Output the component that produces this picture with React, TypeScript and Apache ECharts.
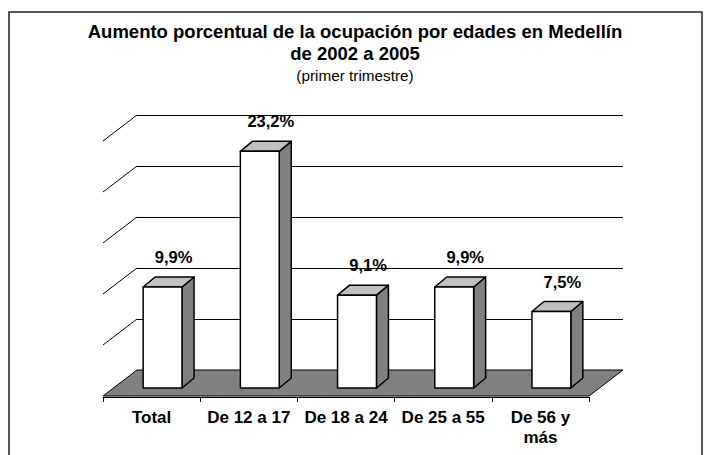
import React, { useEffect, useRef } from "react";
import * as echarts from "echarts";

const titleLines = ["Aumento porcentual de la ocupación por edades en Medellín", "de 2002 a 2005"];
const subtitle = "(primer trimestre)";
const categories = ["Total", "De 12 a 17", "De 18 a 24", "De 25 a 55", "De 56 y\nmás"];
const values = [9.9, 23.2, 9.1, 9.9, 7.5];
const valueLabels = ["9,9%", "23,2%", "9,1%", "9,9%", "7,5%"];
const wallTicks = [5, 10, 15, 20, 25];

const FONT = "'Liberation Sans', Arial, sans-serif";
// full floor depth (back wall to front edge)
const DEPTH_X = 34;
const DEPTH_Y = 26;
// bar front plane offset from the floor front edge
const FRONT_DX = 11;
const FRONT_DY = 9;
// bar depth
const SIDE_DX = 12;
const SIDE_DY = 10;

export default function App() {
  const ref = useRef<HTMLDivElement>(null);
  useEffect(() => {
    if (!ref.current) return;
    const chart = echarts.init(ref.current, undefined, { renderer: "svg" });
    const titleStyle = {
      fontFamily: FONT,
      fontSize: 18.5,
      fontWeight: "bold",
      fill: "#000",
      align: "center",
      verticalAlign: "middle",
    };
    const option: any = {
      animation: false,
      backgroundColor: "#ffffff",
      graphic: [
        {
          type: "rect",
          shape: { x: 9, y: 12, width: 693, height: 470 },
          style: { fill: "none", stroke: "#222", lineWidth: 1.5 },
          silent: true,
          z: 0,
        },
        {
          type: "text",
          x: 355,
          y: 31,
          style: { ...titleStyle, text: titleLines[0] },
          silent: true,
        },
        {
          type: "text",
          x: 355,
          y: 53,
          style: { ...titleStyle, text: titleLines[1] },
          silent: true,
        },
        {
          type: "text",
          x: 355,
          y: 75,
          style: {
            fontFamily: FONT,
            fontSize: 15.3,
            fill: "#000",
            align: "center",
            verticalAlign: "middle",
            text: subtitle,
          },
          silent: true,
        },
      ],
      grid: [
        { left: 137, top: 115, width: 486, height: 255 },
        { left: 103, top: 142, width: 486, height: 255 },
      ],
      xAxis: [
        { gridIndex: 0, type: "category", data: categories, show: false },
        {
          gridIndex: 1,
          type: "category",
          data: categories,
          axisLine: { show: true, lineStyle: { color: "#000", width: 1 } },
          axisTick: { show: true, length: 5, lineStyle: { color: "#000", width: 1 } },
          axisLabel: {
            interval: 0,
            margin: 10,
            fontFamily: FONT,
            fontSize: 17,
            fontWeight: "bold",
            color: "#000",
            lineHeight: 20,
          },
        },
      ],
      yAxis: [
        {
          gridIndex: 0,
          type: "value",
          min: 0,
          max: 25,
          interval: 5,
          axisLine: { show: false },
          axisTick: { show: false },
          axisLabel: { show: false },
          splitLine: { show: true, lineStyle: { color: "#000", width: 1 } },
        },
        {
          gridIndex: 1,
          type: "value",
          min: 0,
          max: 25,
          interval: 5,
          show: false,
          splitLine: { show: false },
        },
      ],
      series: [
        {
          type: "custom",
          name: "floor",
          xAxisIndex: 0,
          yAxisIndex: 0,
          data: [[0, 0]],
          z: 1,
          silent: true,
          renderItem: (params: any, api: any) => {
            const cs = params.coordSys;
            const y0 = api.coord([0, 0])[1];
            return {
              type: "polygon",
              shape: {
                points: [
                  [cs.x, y0],
                  [cs.x + cs.width, y0],
                  [cs.x + cs.width - DEPTH_X, y0 + DEPTH_Y],
                  [cs.x - DEPTH_X, y0 + DEPTH_Y],
                ],
              },
              style: { fill: "#808080", stroke: "#000", lineWidth: 1 },
            };
          },
        },
        {
          type: "custom",
          name: "wall",
          xAxisIndex: 0,
          yAxisIndex: 0,
          data: wallTicks.map((v) => [0, v]),
          z: 1,
          silent: true,
          renderItem: (params: any, api: any) => {
            const cs = params.coordSys;
            const y = api.coord([0, api.value(1)])[1];
            return {
              type: "line",
              shape: { x1: cs.x, y1: y, x2: cs.x - DEPTH_X, y2: y + DEPTH_Y },
              style: { stroke: "#000", lineWidth: 1 },
            };
          },
        },
        {
          type: "custom",
          name: "bars",
          xAxisIndex: 1,
          yAxisIndex: 1,
          data: values.map((v, i) => [i, v]),
          z: 3,
          silent: true,
          renderItem: (params: any, api: any) => {
            const idx = api.value(0);
            const v = api.value(1);
            const base = api.coord([idx, 0]);
            const top = api.coord([idx, v]);
            const bw = api.size([1, 0])[0] * 0.4;
            const fx = base[0] + FRONT_DX - bw / 2;
            const fy0 = base[1] - FRONT_DY;
            const fy1 = top[1] - FRONT_DY;
            const stroke = { stroke: "#000", lineWidth: 1.5, lineJoin: "round" };
            return {
              type: "group",
              children: [
                {
                  type: "polygon",
                  shape: {
                    points: [
                      [fx + bw, fy1],
                      [fx + bw + SIDE_DX, fy1 - SIDE_DY],
                      [fx + bw + SIDE_DX, fy0 - SIDE_DY],
                      [fx + bw, fy0],
                    ],
                  },
                  style: { fill: "#808080", ...stroke },
                },
                {
                  type: "polygon",
                  shape: {
                    points: [
                      [fx, fy1],
                      [fx + SIDE_DX, fy1 - SIDE_DY],
                      [fx + bw + SIDE_DX, fy1 - SIDE_DY],
                      [fx + bw, fy1],
                    ],
                  },
                  style: { fill: "#c0c0c0", ...stroke },
                },
                {
                  type: "rect",
                  shape: { x: fx, y: fy1, width: bw, height: fy0 - fy1 },
                  style: { fill: "#ffffff", ...stroke },
                },
                {
                  type: "text",
                  x: fx + bw / 2 + 11,
                  y: fy1 - 30,
                  style: {
                    text: valueLabels[idx],
                    fontFamily: FONT,
                    fontSize: 16.5,
                    fontWeight: "bold",
                    fill: "#000",
                    align: "center",
                    verticalAlign: "middle",
                  },
                },
              ],
            };
          },
        },
      ],
    };
    chart.setOption(option);
    return () => chart.dispose();
  }, []);
  return (
    <div
      ref={ref}
      style={{ position: "fixed", left: 0, top: 0, width: 704, height: 455 }}
    />
  );
}
